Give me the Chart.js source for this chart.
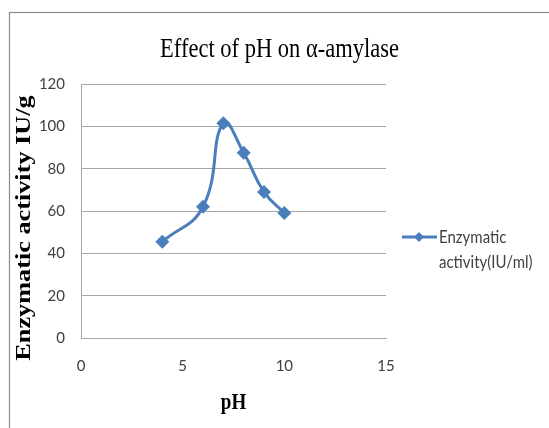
<!DOCTYPE html>
<html>
<head>
<meta charset="utf-8">
<script src="https://cdn.jsdelivr.net/npm/chart.js@4.4.1/dist/chart.umd.min.js"></script>
<style>
html,body{margin:0;padding:0;background:#fff;}
#wrap{width:549px;height:428px;position:relative;}
</style>
</head>
<body>
<div id="wrap"><canvas id="c" width="549" height="428"></canvas></div>
<script>
// ---- data ----
const phValues = [4, 6, 7, 8, 9, 10];
const activityValues = [45.5, 62, 101.5, 87.5, 69, 59];
const seriesLabel = ["Enzymatic", "activity(IU/ml)"];
const chartTitle = "Effect of pH on \u03b1-amylase";
const xAxisTitle = "pH";
const yAxisTitle = "Enzymatic activity IU/g";
const xTicks = [0, 5, 10, 15];
const yTicks = [0, 20, 40, 60, 80, 100, 120];

const BLUE = '#4A7EBB';
const TICKFONT = 'Lato, "Open Sans", "Liberation Sans", sans-serif';
const SERIF = '"Liberation Serif", "DejaVu Serif", serif';
const STRETCH = 1.25;

const points = phValues.map((x, i) => ({x: x, y: activityValues[i]}));

const framePlugin = {
  id: 'frame',
  beforeDraw(chart) {
    const ctx = chart.ctx;
    ctx.save();
    ctx.fillStyle = '#fff';
    ctx.fillRect(0, 0, chart.width, chart.height);
    ctx.strokeStyle = '#8c8c8c';
    ctx.lineWidth = 1.2;
    ctx.strokeRect(9.5, 12.5, chart.width + 20, chart.height + 20);
    ctx.restore();
  }
};

const extrasPlugin = {
  id: 'extras',
  afterDraw(chart) {
    const ctx = chart.ctx;
    const area = chart.chartArea;
    ctx.save();
    ctx.fillStyle = '#000';
    // chart title
    ctx.save();
    ctx.translate(279.5, 57);
    ctx.scale(1, STRETCH);
    ctx.font = '22.5px ' + SERIF;
    ctx.textAlign = 'center';
    ctx.textBaseline = 'alphabetic';
    ctx.fillText(chartTitle, 0, 0);
    ctx.restore();
    // x axis title
    ctx.save();
    ctx.translate((area.left + area.right) / 2, 409);
    ctx.scale(1, STRETCH);
    ctx.font = 'bold 19px ' + SERIF;
    ctx.textAlign = 'center';
    ctx.textBaseline = 'alphabetic';
    ctx.fillText(xAxisTitle, 0, 0);
    ctx.restore();
    // y axis title
    ctx.save();
    ctx.translate(25, 228);
    ctx.rotate(-Math.PI / 2);
    ctx.scale(STRETCH, 1);
    ctx.font = 'bold 21px ' + SERIF;
    ctx.textAlign = 'center';
    ctx.textBaseline = 'middle';
    ctx.fillText(yAxisTitle, 0, 0);
    ctx.restore();
    ctx.restore();

    // legend
    const ds = chart.data.datasets[0];
    ctx.save();
    const ly = 237;
    ctx.strokeStyle = ds.borderColor;
    ctx.lineWidth = 3;
    ctx.beginPath();
    ctx.moveTo(402, ly);
    ctx.lineTo(437, ly);
    ctx.stroke();
    ctx.fillStyle = ds.pointBackgroundColor;
    ctx.beginPath();
    const r = 5;
    ctx.moveTo(419, ly - r); ctx.lineTo(419 + r, ly); ctx.lineTo(419, ly + r); ctx.lineTo(419 - r, ly);
    ctx.closePath();
    ctx.fill();
    ctx.fillStyle = '#404040';
    ctx.textAlign = 'left';
    ctx.textBaseline = 'alphabetic';
    ctx.font = '15px ' + TICKFONT;
    [[seriesLabel[0], 243], [seriesLabel[1], 268]].forEach(([t, y]) => {
      ctx.save();
      ctx.translate(439, y);
      ctx.scale(1, 1.15);
      ctx.fillText(t, 0, 0);
      ctx.restore();
    });
    ctx.restore();
  }
};

new Chart(document.getElementById('c'), {
  type: 'scatter',
  data: {
    datasets: [{
      label: seriesLabel.join(' '),
      data: points,
      showLine: true,
      tension: 0.45,
      borderColor: BLUE,
      borderWidth: 3,
      pointStyle: 'rectRot',
      pointRadius: 7,
      pointHoverRadius: 7,
      pointBackgroundColor: BLUE,
      pointBorderColor: BLUE,
      pointBorderWidth: 0
    }]
  },
  options: {
    responsive: false,
    animation: false,
    devicePixelRatio: 1,
    layout: { padding: { left: 0, right: 163, top: 84, bottom: 0 } },
    plugins: {
      legend: { display: false },
      tooltip: { enabled: false },
      title: { display: false }
    },
    scales: {
      x: {
        type: 'linear',
        min: 0, max: 15,
        afterBuildTicks(scale) { scale.ticks = xTicks.map(v => ({value: v})); },
        grid: { display: false, drawTicks: false },
        border: { display: true, color: '#a6a6a6', width: 1 },
        ticks: { font: { family: TICKFONT, size: 15 }, color: '#404040', padding: 19 },
        afterFit(scale) { scale.height = 90; }
      },
      y: {
        type: 'linear',
        min: 0, max: 120,
        afterBuildTicks(scale) { scale.ticks = yTicks.map(v => ({value: v})); },
        grid: { color: '#a6a6a6', drawTicks: false, lineWidth: 1 },
        border: { display: true, color: '#a6a6a6', width: 1 },
        ticks: { font: { family: TICKFONT, size: 15 }, color: '#404040', padding: 16 },
        afterFit(scale) { scale.width = 81; }
      }
    }
  },
  plugins: [framePlugin, extrasPlugin]
});
</script>
</body>
</html>
